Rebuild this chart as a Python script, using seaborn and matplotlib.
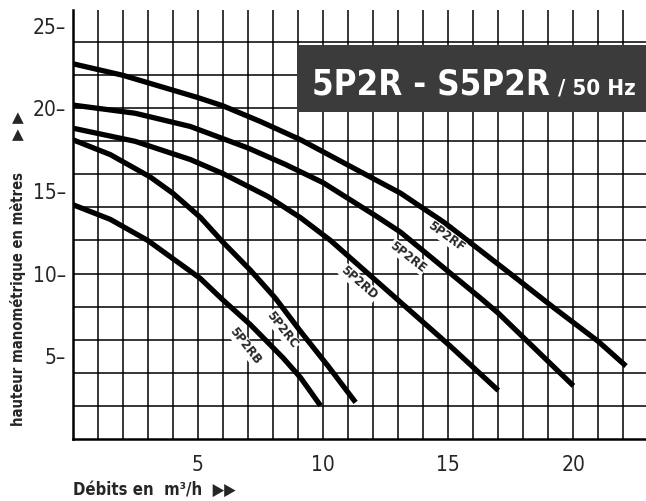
import pandas as pd
import matplotlib
matplotlib.use("Agg")
import matplotlib.pyplot as plt
from matplotlib.patches import Rectangle
import seaborn as sns

q_rf = [0, 2.0, 4.0, 5.0, 6.0, 7.5, 9.1, 12.0, 13.1, 14.85, 17.6, 19.2, 21.0, 22.1]
h_rf = [22.7, 22.0, 21.1, 20.65, 20.15, 19.2, 18.1, 15.75, 14.86, 13.08, 9.85, 7.95, 5.88, 4.4]
q_re = [0, 2.5, 4.7, 7.0, 8.5, 10.0, 12.2, 13.1, 16.3, 17.0, 20.0]
h_re = [20.2, 19.7, 18.9, 17.6, 16.6, 15.5, 13.4, 12.5, 8.5, 7.6, 3.2]
q_rd = [0, 2.5, 4.7, 6.0, 7.8, 9.1, 10.3, 15.1, 17.0]
h_rd = [18.8, 18.0, 16.9, 16.05, 14.66, 13.38, 12.0, 5.58, 2.92]
q_rc = [0, 1.5, 3.1, 4.0, 5.1, 6.0, 7.1, 8.1, 9.1, 10.2, 11.3]
h_rc = [18.1, 17.2, 15.84, 14.86, 13.4, 11.9, 10.2, 8.5, 6.5, 4.4, 2.2]
q_rb = [0, 1.5, 3.0, 5.1, 6.0, 7.1, 8.4, 9.1, 9.9]
h_rb = [14.17, 13.28, 12.0, 9.7, 8.4, 6.9, 4.9, 3.7, 2.0]

modeles = ["5P2RF", "5P2RE", "5P2RD", "5P2RC", "5P2RB"]
x_ticks = [5, 10, 15, 20]
y_ticks = [5, 10, 15, 20, 25]

titre = "5P2R - S5P2R"
sous_titre = "/ 50 Hz"

frames = []
for nom, q, h in zip(modeles, [q_rf, q_re, q_rd, q_rc, q_rb], [h_rf, h_re, h_rd, h_rc, h_rb]):
    frames.append(pd.DataFrame({"debit": q, "hauteur": h, "modele": nom}))
df = pd.concat(frames, ignore_index=True)

sns.set_style("white")
plt.rcParams["font.family"] = ["DejaVu Sans"]
cond = dict(family="DejaVu Sans", stretch="condensed")

fig = plt.figure(figsize=(6.46, 5.01), dpi=100)
ax = fig.add_axes([0.1125, 0.1243, 0.8875, 0.8557])

# quadrillage
for xv in range(1, 23):
    ax.axvline(xv, color="black", lw=1.1, zorder=1)
for yv in range(2, 26, 2):
    ax.axhline(yv, color="black", lw=1.1, zorder=1)

sns.lineplot(data=df, x="debit", y="hauteur", hue="modele", sort=False,
             estimator=None, palette=["black"] * 5, linewidth=3.8,
             legend=False, ax=ax, zorder=3)
for ln in ax.lines:
    ln.set_solid_capstyle("butt")
    ln.set_solid_joinstyle("round")

# étiquettes des courbes
etiquettes = {
    "5P2RF": (14.9, 12.25, -36),
    "5P2RE": (13.4, 11.0, -38),
    "5P2RD": (11.45, 9.42, -41),
    "5P2RC": (8.37, 6.58, -52),
    "5P2RB": (6.9, 5.6, -52),
}
for nom, (xt, yt, rot) in etiquettes.items():
    ax.text(xt, yt, nom, rotation=rot, rotation_mode="anchor", ha="center",
            va="center", fontsize=8.5, fontweight="bold", family="DejaVu Sans",
            zorder=4, bbox=dict(facecolor="white", edgecolor="none", pad=0.5))

ax.set_xlim(0, 22.9)
ax.set_ylim(0, 25.95)
ax.set_xticks(x_ticks)
ax.set_xticklabels([str(v) for v in x_ticks], fontstretch="condensed")
ax.set_yticks(y_ticks)
ax.set_yticklabels([f"{v}–" for v in y_ticks], fontstretch="condensed")
ax.tick_params(axis="x", length=0, pad=12, labelsize=15)
ax.tick_params(axis="y", length=0, pad=5, labelsize=15)
ax.set_xlabel("")
ax.set_ylabel("")

for side in ["top", "right"]:
    ax.spines[side].set_visible(False)
for side in ["left", "bottom"]:
    ax.spines[side].set_color("black")
    ax.spines[side].set_linewidth(1.8)

# cartouche titre
fig.patches.append(Rectangle((0.4598, 0.7764), 0.5402, 0.1337, transform=fig.transFigure,
                             facecolor="#3b3b3b", edgecolor="none", zorder=5))
t1 = fig.text(0.483, 0.812, titre, color="white", fontsize=25, fontweight="bold",
              ha="left", va="baseline", zorder=6, **cond)
fig.canvas.draw()
x_fin = t1.get_window_extent().x1 / fig.bbox.width
fig.text(x_fin + 0.012, 0.812, sous_titre, color="white", fontsize=16, fontweight="bold",
         ha="left", va="baseline", zorder=6, **cond)

# titres des axes
fig.text(0.028, 0.403, "hauteur manométrique en mètres", rotation=90, ha="center",
         va="center", fontsize=10.6, fontweight="bold", **cond)
fig.text(0.028, 0.766, "▲", ha="center", va="center", fontsize=11)
fig.text(0.028, 0.732, "▲", ha="center", va="center", fontsize=11)
fig.text(0.113, 0.012, "Débits en  m³/h  ▶▶", ha="left", va="baseline", fontsize=12,
         fontweight="bold", **cond)

fig.savefig("out.png", dpi=100)
